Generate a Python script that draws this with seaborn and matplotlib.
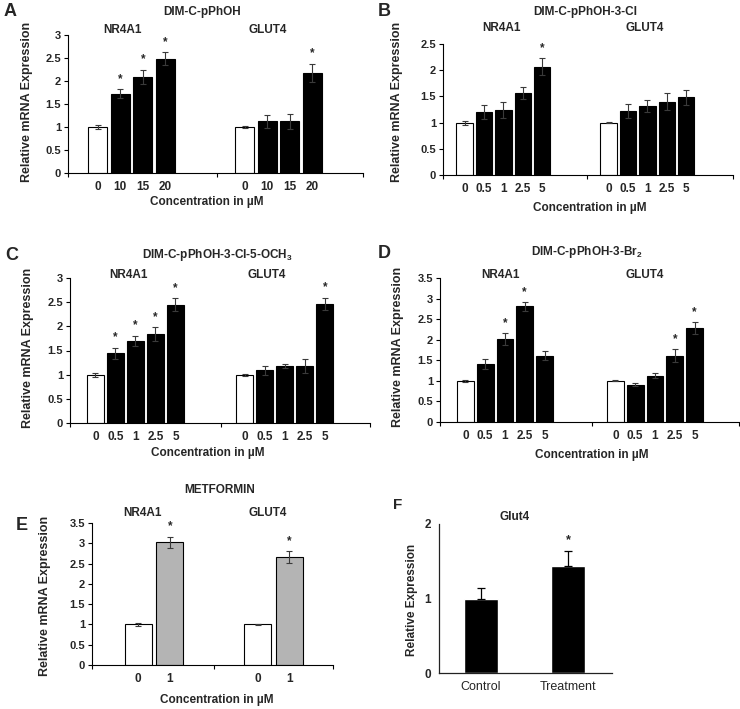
import pandas as pd
import matplotlib
matplotlib.use("Agg")
import matplotlib.pyplot as plt
import seaborn as sns

# ---- data ----
genes = ["NR4A1", "GLUT4"]

# A: DIM-C-pPhOH
a_conc = ["0", "10", "15", "20"]
a_nr4a1 = [1.00, 1.72, 2.09, 2.48]
a_nr4a1_err = [0.04, 0.10, 0.16, 0.14]
a_nr4a1_sig = [0, 1, 1, 1]
a_glut4 = [1.00, 1.12, 1.12, 2.18]
a_glut4_err = [0.02, 0.15, 0.17, 0.20]
a_glut4_sig = [0, 0, 0, 1]

# B: DIM-C-pPhOH-3-Cl
b_conc = ["0", "0.5", "1", "2.5", "5"]
b_nr4a1 = [1.00, 1.20, 1.24, 1.56, 2.07]
b_nr4a1_err = [0.04, 0.13, 0.15, 0.11, 0.16]
b_nr4a1_sig = [0, 0, 0, 0, 1]
b_glut4 = [1.00, 1.22, 1.32, 1.40, 1.48]
b_glut4_err = [0.01, 0.13, 0.12, 0.16, 0.14]
b_glut4_sig = [0, 0, 0, 0, 0]

# C: DIM-C-pPhOH-3-Cl-5-OCH3
c_conc = ["0", "0.5", "1", "2.5", "5"]
c_nr4a1 = [1.00, 1.44, 1.70, 1.84, 2.45]
c_nr4a1_err = [0.04, 0.12, 0.11, 0.14, 0.13]
c_nr4a1_sig = [0, 1, 1, 1, 1]
c_glut4 = [1.00, 1.09, 1.18, 1.18, 2.46]
c_glut4_err = [0.02, 0.09, 0.05, 0.14, 0.13]
c_glut4_sig = [0, 0, 0, 0, 1]

# D: DIM-C-pPhOH-3-Br2
d_conc = ["0", "0.5", "1", "2.5", "5"]
d_nr4a1 = [1.00, 1.42, 2.02, 2.81, 1.61]
d_nr4a1_err = [0.03, 0.12, 0.14, 0.11, 0.11]
d_nr4a1_sig = [0, 0, 1, 1, 0]
d_glut4 = [1.00, 0.91, 1.12, 1.61, 2.28]
d_glut4_err = [0.01, 0.03, 0.06, 0.16, 0.14]
d_glut4_sig = [0, 0, 0, 1, 1]

# E: Metformin
e_conc = ["0", "1"]
e_nr4a1 = [1.00, 3.02]
e_nr4a1_err = [0.03, 0.14]
e_nr4a1_sig = [0, 1]
e_glut4 = [1.00, 2.66]
e_glut4_err = [0.01, 0.14]
e_glut4_sig = [0, 1]

# F: Glut4 control vs treatment
f_groups = ["Control", "Treatment"]
f_values = [1.00, 1.44]
f_err = [0.14, 0.20]
f_sig = [0, 1]

W, H = 740, 709

sns.set_style("ticks")
plt.rcParams["font.family"] = ["Liberation Sans", "DejaVu Sans"]
plt.rcParams["mathtext.fontset"] = "custom"
plt.rcParams["mathtext.bf"] = "Liberation Sans:bold"
plt.rcParams["mathtext.rm"] = "Liberation Sans:bold"

fig = plt.figure(figsize=(W / 100, H / 100), dpi=100)


def axes_px(left, top, right, bottom):
    return fig.add_axes([left / W, 1 - bottom / H, (right - left) / W, (bottom - top) / H])


def ftext(x, y, s, **kw):
    kw.setdefault("ha", "center")
    kw.setdefault("va", "center")
    kw.setdefault("fontweight", "bold")
    fig.text(x / W, 1 - y / H, s, **kw)


def style_y(ax, ymax, step, size=8):
    ticks = []
    v = 0.0
    while v <= ymax + 1e-9:
        ticks.append(round(v, 2))
        v += step
    ax.set_ylim(0, ymax)
    ax.set_yticks(ticks)
    ax.set_yticklabels([f"{t:g}" for t in ticks], fontsize=size, fontweight="bold")
    ax.tick_params(axis="y", length=3, width=0.8, pad=2, color="black")


def grouped(ax, conc, nr, nr_err, nr_sig, gl, gl_err, gl_sig, colors,
            width, gap, xlim, mid, err_color="#3a3a3a"):
    df = pd.DataFrame({
        "gene": [genes[0]] * len(conc) + [genes[1]] * len(conc),
        "conc": conc + conc,
        "value": nr + gl,
        "err": nr_err + gl_err,
        "sig": nr_sig + gl_sig,
    })
    sns.barplot(data=df, x="gene", y="value", hue="conc", order=genes,
                hue_order=conc, palette=colors, saturation=1, width=width,
                gap=gap, edgecolor="black", linewidth=0.8, errorbar=None,
                legend=False, ax=ax)
    # bar centres in (gene, conc) order
    bars = sorted(ax.patches, key=lambda p: p.get_x())
    xs = [p.get_x() + p.get_width() / 2 for p in bars]
    hs = [p.get_height() for p in bars]
    ax.errorbar(xs, hs, yerr=df["err"].values, fmt="none", ecolor=err_color,
                elinewidth=0.8, capsize=2.5, capthick=0.8)
    for x, h, e, s in zip(xs, hs, df["err"], df["sig"]):
        if s:
            ax.annotate("*", (x, h + e), xytext=(0, 3), textcoords="offset points",
                        ha="center", va="bottom", fontsize=8.5, fontweight="bold")
    ax.set_xlim(*xlim)
    ax.set_xticks(xs)
    ax.set_xticklabels(df["conc"], fontsize=8.5, fontweight="bold")
    ax.tick_params(axis="x", which="major", length=0, pad=6)
    ax.set_xticks([xlim[0], mid, xlim[1]], minor=True)
    ax.tick_params(axis="x", which="minor", length=3, width=0.8, color="black")
    ax.set_xlabel("")
    ax.set_ylabel("")
    sns.despine(ax=ax)
    for sp in ("left", "bottom"):
        ax.spines[sp].set_linewidth(0.8)
        ax.spines[sp].set_color("black")


bw = ["white"] + ["black"] * 4
ylab = "Relative mRNA Expression"
xlab = "Concentration in µM"

# ---- A ----
ax = axes_px(68, 35, 363, 173)
grouped(ax, a_conc, a_nr4a1, a_nr4a1_err, a_nr4a1_sig, a_glut4, a_glut4_err,
        a_glut4_sig, bw[:4], 0.615, 0.16, (-0.432, 1.575), 0.58)
style_y(ax, 3, 0.5)
ftext(10, 12, "A", fontsize=13)
ftext(202, 12, "DIM-C-pPhOH", fontsize=8.5)
ftext(122, 30, "NR4A1", fontsize=8.5)
ftext(268, 30, "GLUT4", fontsize=8.5)
ftext(207, 202, xlab, fontsize=8.5)
ftext(27, 102, ylab, fontsize=9, rotation=90)

# ---- B ----
ax = axes_px(443, 44, 733, 175)
grouped(ax, b_conc, b_nr4a1, b_nr4a1_err, b_nr4a1_sig, b_glut4, b_glut4_err,
        b_glut4_sig, bw, 0.673, 0.15, (-0.42, 1.594), 0.58)
style_y(ax, 2.5, 0.5)
ftext(384, 12, "B", fontsize=13)
ftext(585, 12, "DIM-C-pPhOH-3-Cl", fontsize=8.5)
ftext(502, 28, "NR4A1", fontsize=8.5)
ftext(645, 28, "GLUT4", fontsize=8.5)
ftext(590, 208, xlab, fontsize=8.5)
ftext(397, 102, ylab, fontsize=9, rotation=90)

# ---- C ----
ax = axes_px(70, 278, 370, 423)
grouped(ax, c_conc, c_nr4a1, c_nr4a1_err, c_nr4a1_sig, c_glut4, c_glut4_err,
        c_glut4_sig, bw, 0.669, 0.15, (-0.438, 1.569), 0.57)
style_y(ax, 3, 0.5)
ftext(12, 255, "C", fontsize=13)
ftext(217, 255, "DIM-C-pPhOH-3-Cl-5-OCH$_\\mathbf{3}$", fontsize=8.5)
ftext(128, 275, "NR4A1", fontsize=8.5)
ftext(267, 275, "GLUT4", fontsize=8.5)
ftext(208, 453, xlab, fontsize=8.5)
ftext(28, 348, ylab, fontsize=9, rotation=90)

# ---- D ----
ax = axes_px(440, 278, 739, 422)
grouped(ax, d_conc, d_nr4a1, d_nr4a1_err, d_nr4a1_sig, d_glut4, d_glut4_err,
        d_glut4_sig, bw, 0.66, 0.15, (-0.433, 1.56), 0.58)
style_y(ax, 3.5, 0.5)
ftext(384, 253, "D", fontsize=13)
ftext(587, 252, "DIM-C-pPhOH-3-Br$_\\mathbf{2}$", fontsize=8.5)
ftext(500, 275, "NR4A1", fontsize=8.5)
ftext(645, 275, "GLUT4", fontsize=8.5)
ftext(592, 455, xlab, fontsize=8.5)
ftext(398, 347, ylab, fontsize=9, rotation=90)

# ---- E ----
ax = axes_px(92, 523, 333, 665)
grouped(ax, e_conc, e_nr4a1, e_nr4a1_err, e_nr4a1_sig, e_glut4, e_glut4_err,
        e_glut4_sig, ["white", "#b4b4b4"], 0.53, 0.15, (-0.52, 1.5), 0.5)
style_y(ax, 3.5, 0.5)
ftext(22, 525, "E", fontsize=13)
ftext(220, 490, "METFORMIN", fontsize=8.5)
ftext(143, 513, "NR4A1", fontsize=8.5)
ftext(268, 513, "GLUT4", fontsize=8.5)
ftext(217, 700, xlab, fontsize=8.5)
ftext(45, 596, ylab, fontsize=9, rotation=90)

# ---- F ----
ax = axes_px(439, 524, 612, 673)
fdf = pd.DataFrame({"group": f_groups, "value": f_values, "err": f_err, "sig": f_sig})
sns.barplot(data=fdf, x="group", y="value", color="black", saturation=1,
            width=0.39, errorbar=None, ax=ax)
bars = sorted(ax.patches, key=lambda p: p.get_x())
xs = [p.get_x() + p.get_width() / 2 for p in bars]
hs = [p.get_height() for p in bars]
ax.errorbar(xs, hs, yerr=[[0] * len(f_err), f_err], fmt="none", ecolor="black",
            elinewidth=0.9, capsize=3, capthick=0.9)
for x, h, e, s in zip(xs, hs, f_err, f_sig):
    if s:
        ax.annotate("*", (x, h + e), xytext=(0, 3), textcoords="offset points",
                    ha="center", va="bottom", fontsize=9, fontweight="bold")
ax.set_xlim(-0.48, 1.5)
ax.set_ylim(0, 2)
ax.set_yticks([0, 1, 2])
ax.set_yticklabels(["0", "1", "2"], fontsize=8.5, fontweight="bold")
ax.set_xticks(xs)
ax.set_xticklabels(f_groups, fontsize=9)
ax.tick_params(axis="both", length=0, pad=6)
ax.set_xlabel("")
ax.set_ylabel("")
sns.despine(ax=ax)
for sp in ("left", "bottom"):
    ax.spines[sp].set_linewidth(0.9)
    ax.spines[sp].set_color("#222222")
ftext(398, 505, "F", fontsize=11)
ftext(515, 517, "Glut4", fontsize=8.5)
ftext(412, 600, "Relative Expression", fontsize=8.5, rotation=90)

fig.savefig("out.png", dpi=100)
